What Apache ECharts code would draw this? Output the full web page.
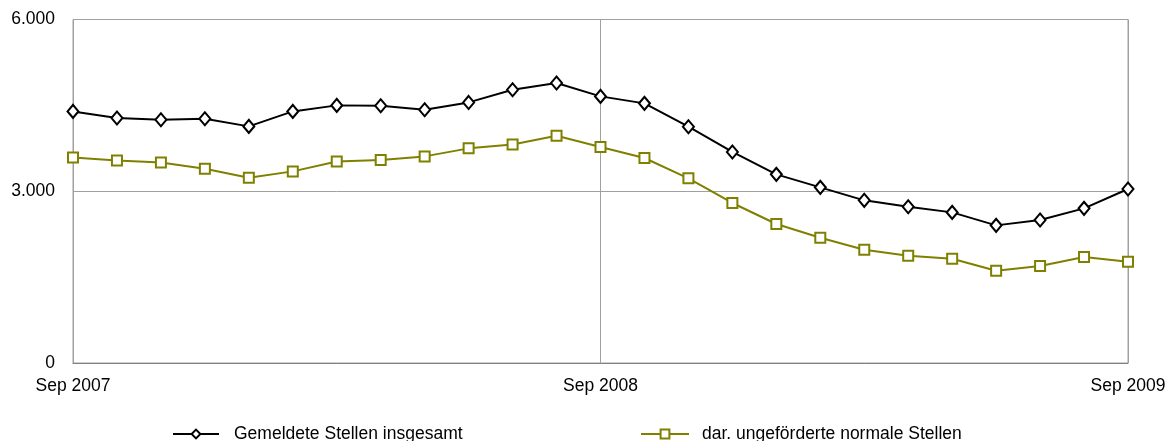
<!DOCTYPE html>
<html><head><meta charset="utf-8">
<script src="https://cdn.jsdelivr.net/npm/echarts@6/dist/echarts.min.js"></script>
<style>html,body{margin:0;padding:0;background:#fff}#c{width:1170px;height:441px}</style>
</head><body><div id="c"></div>
<script>
const categories = ["Sep 2007","Okt 2007","Nov 2007","Dez 2007","Jan 2008","Feb 2008","Mrz 2008","Apr 2008","Mai 2008","Jun 2008","Jul 2008","Aug 2008","Sep 2008","Okt 2008","Nov 2008","Dez 2008","Jan 2009","Feb 2009","Mrz 2009","Apr 2009","Mai 2009","Jun 2009","Jul 2009","Aug 2009","Sep 2009"];
const gesamt = [4395,4279,4250,4267,4133,4395,4500,4494,4424,4552,4774,4891,4657,4535,4127,3686,3295,3068,2841,2730,2631,2404,2498,2701,3039];
const normal = [3591,3539,3504,3394,3237,3347,3521,3546,3609,3749,3818,3970,3773,3581,3225,2795,2428,2189,1979,1874,1822,1612,1694,1852,1769];
const yTicks = [0,3000,6000];
const seriesNames = ["Gemeldete Stellen insgesamt","dar. ungeförderte normale Stellen"];

const chart = echarts.init(document.getElementById('c'));
const fmt = v => v.toString().replace(/\B(?=(\d{3})+(?!\d))/g, '.');
const FS = 17.5;
chart.setOption({
  animation:false,
  textStyle:{fontFamily:'Liberation Sans, Arial, sans-serif'},
  grid:{left:73,right:42,top:19.5,bottom:78,show:true,borderColor:'#a0a0a0',borderWidth:1,backgroundColor:'transparent'},
  legend:[
    {data:[seriesNames[0]],left:167,top:420,itemWidth:46,itemHeight:11,
     textStyle:{fontSize:FS,color:'#000',padding:[0,0,0,10]}},
    {data:[seriesNames[1]],left:635,top:420,itemWidth:48,itemHeight:11,
     textStyle:{fontSize:FS,color:'#000',padding:[0,0,0,8]}}
  ],
  xAxis:{type:'category',data:categories,boundaryGap:false,
    axisLine:{lineStyle:{color:'#808080',width:1}},
    axisTick:{show:false},
    axisLabel:{interval:11,fontSize:FS,color:'#000',margin:14,
      alignMinLabel:'center',alignMaxLabel:'center'},
    splitLine:{show:true,interval:11,lineStyle:{color:'#a0a0a0',width:1}}
  },
  yAxis:{type:'value',min:0,max:6000,interval:3000,
    axisLine:{show:true,lineStyle:{color:'#a0a0a0'}},
    axisTick:{show:false},
    axisLabel:{fontSize:FS,color:'#000',margin:18,formatter:v=>fmt(v)},
    splitLine:{show:true,lineStyle:{color:'#a0a0a0',width:1}}
  },
  series:[
    {name:seriesNames[0],type:'line',data:gesamt,symbol:'diamond',symbolSize:[11,13],
     lineStyle:{color:'#000',width:2},itemStyle:{color:'#fff',borderColor:'#000',borderWidth:2},
     color:'#000'},
    {name:seriesNames[1],type:'line',data:normal,symbol:'rect',symbolSize:10,
     lineStyle:{color:'#808000',width:2},itemStyle:{color:'#fff',borderColor:'#808000',borderWidth:2},
     color:'#808000'}
  ]
});
</script></body></html>
